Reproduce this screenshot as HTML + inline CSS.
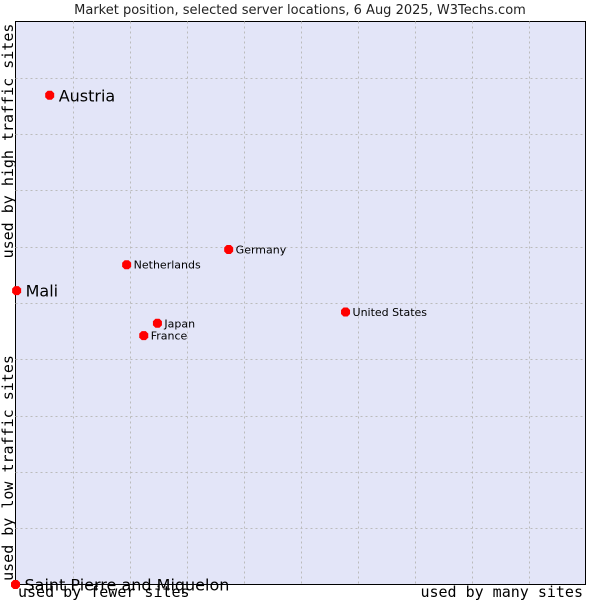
<!DOCTYPE html>
<html><head><meta charset="utf-8"><style>
body{margin:0;background:#fff;}
svg{display:block;}
</style></head><body>
<svg id="chart" width="600" height="600" xmlns="http://www.w3.org/2000/svg" font-family="DejaVu Sans, sans-serif">
<text x="300" y="14" text-anchor="middle" font-size="13" fill="#222">Market position, selected server locations, 6 Aug 2025, W3Techs.com</text>
<rect x="15.5" y="21.5" width="570" height="563" fill="#e3e5f8" stroke="#000" stroke-width="1"/>
<g id="grid"></g>
<text transform="translate(13,141) rotate(-90)" text-anchor="middle" font-family="DejaVu Sans Mono, monospace" font-size="15" fill="#000">used by high traffic sites</text>
<text transform="translate(13,468) rotate(-90)" text-anchor="middle" font-family="DejaVu Sans Mono, monospace" font-size="15" fill="#000">used by low traffic sites</text>
<text x="18" y="597" font-family="DejaVu Sans Mono, monospace" font-size="15" fill="#000">used by fewer sites</text>
<text x="583" y="597" text-anchor="end" font-family="DejaVu Sans Mono, monospace" font-size="15" fill="#000">used by many sites</text>
<g id="points"></g>
</svg>
<script>
const countries=["Austria","Mali","Saint Pierre and Miquelon","Netherlands","Germany","United States","Japan","France"];
const xValues=[6,0.2,0,19.5,37.4,57.9,24.9,22.5];
const yValues=[86.9,52.2,0,56.8,59.5,48.4,46.4,44.2];
const bigLabel=[true,true,true,false,false,false,false,false];
const X0=15.5,X1=585.5,Y0=584.5,Y1=21.5;
const sx=v=>X0+v/100*(X1-X0);
const sy=v=>Y0-v/100*(Y0-Y1);
const NS="http://www.w3.org/2000/svg";
const grid=document.getElementById('grid');
for(let i=1;i<10;i++){
  const v=document.createElementNS(NS,'line');
  
  
  const x=Math.round(sx(i*10))+0.5;
  v.setAttribute('x1',x);v.setAttribute('x2',x);v.setAttribute('y1',Y1);v.setAttribute('y2',Y0);
  v.setAttribute('stroke','#bbbbbb');v.setAttribute('stroke-dasharray','2,3');
  grid.appendChild(v);
  const h=document.createElementNS(NS,'line');
  
  
  const y=Math.round(sy(i*10))+0.5;
  h.setAttribute('x1',X0);h.setAttribute('x2',X1);h.setAttribute('y1',y);h.setAttribute('y2',y);
  h.setAttribute('stroke','#bbbbbb');h.setAttribute('stroke-dasharray','2,3');
  grid.appendChild(h);
}
const pts=document.getElementById('points');
countries.forEach((c,i)=>{
  const x=sx(xValues[i]),y=sy(yValues[i]);
  const d=document.createElementNS(NS,'polygon');
  
  
  d.setAttribute('points',`${x-2},${y-4.5} ${x+2},${y-4.5} ${x+4.5},${y-2} ${x+4.5},${y+2} ${x+2},${y+4.5} ${x-2},${y+4.5} ${x-4.5},${y+2} ${x-4.5},${y-2}`);
  d.setAttribute('fill','#f00');
  pts.appendChild(d);
  const t=document.createElementNS(NS,'text');
  
  
  const big=bigLabel[i];
  t.setAttribute('x',x+(big?9:7));
  t.setAttribute('y',y+(big?6:4));
  t.setAttribute('font-size',big?16:11);
  t.setAttribute('fill','#000');
  t.textContent=c;
  pts.appendChild(t);
});
</script>
</body></html>
